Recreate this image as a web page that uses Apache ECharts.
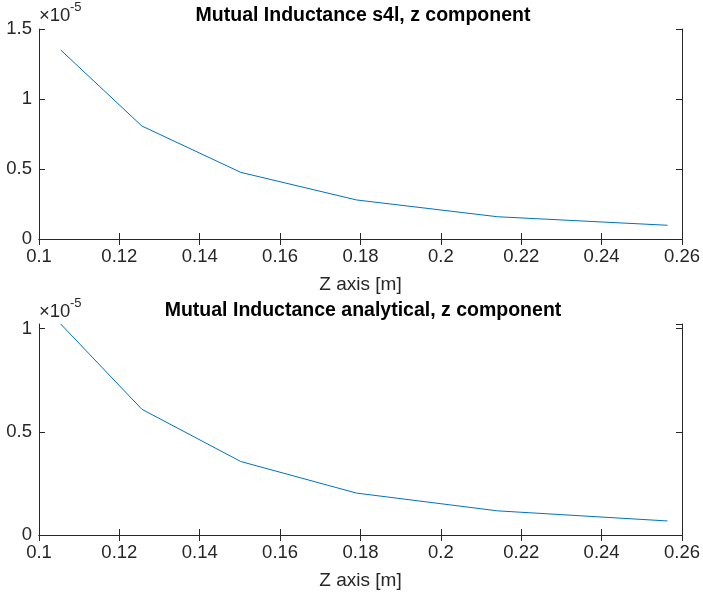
<!DOCTYPE html>
<html>
<head>
<meta charset="utf-8">
<script src="https://cdn.jsdelivr.net/npm/echarts@6/dist/echarts.min.js"></script>
<style>
  html, body { margin: 0; padding: 0; background: #fff; }
  #main { width: 703px; height: 594px; }
</style>
</head>
<body>
<div id="main"></div>
<script>
// z positions [m]
var zPos = [0.1054, 0.1256, 0.1502, 0.1790, 0.2141, 0.2564];
// mutual inductance, in units of 1e-5
var mS4l = [1.35, 0.807, 0.476, 0.279, 0.159, 0.098];
var mAnalytical = [1.022, 0.609, 0.356, 0.203, 0.117, 0.068];

var xTicks = { min: 0.1, max: 0.26, step: 0.02 };
var yTop = { min: 0, max: 1.5, step: 0.5 };
var yBottom = { min: 0, max: 1.022, step: 0.5 };

var axisCol = '#262626';
var font = 'Liberation Sans, Arial, sans-serif';
var fs = 18.5;

function pairs(xs, ys) {
    var out = [];
    for (var i = 0; i < xs.length; i++) out.push([xs[i], ys[i]]);
    return out;
}

function xAx(gi, top) {
    return {
        type: 'value',
        gridIndex: gi,
        position: top ? 'top' : 'bottom',
        min: xTicks.min, max: xTicks.max, interval: xTicks.step,
        name: top ? '' : 'Z axis [m]',
        nameLocation: 'middle',
        nameGap: 36,
        nameTextStyle: { color: axisCol, fontSize: fs + 0.5, fontFamily: font },
        axisLine: { show: true, lineStyle: { color: axisCol, width: 1 } },
        axisTick: { show: true, inside: true, length: 6, lineStyle: { color: axisCol } },
        axisLabel: { show: !top, color: axisCol, fontSize: fs, fontFamily: font, margin: 8 },
        splitLine: { show: false }
    };
}

function yAx(gi, right, rng) {
    return {
        type: 'value',
        gridIndex: gi,
        position: right ? 'right' : 'left',
        min: rng.min, max: rng.max, interval: rng.step,
        axisLine: { show: true, lineStyle: { color: axisCol, width: 1 } },
        axisTick: { show: true, inside: true, length: 6, lineStyle: { color: axisCol } },
        axisLabel: {
            show: !right, color: axisCol, fontSize: fs, fontFamily: font, margin: 7,
            showMaxLabel: rng.max % rng.step === 0
        },
        splitLine: { show: false }
    };
}

// the x10^-5 multiplier drawn above each y axis
function expLabel(top) {
    return [
        { type: 'text', left: 39, top: top + 5, style: { text: '\u00d710', fontSize: fs, fontFamily: font, fill: axisCol } },
        { type: 'text', left: 70, top: top, style: { text: '-5', fontSize: 13, fontFamily: font, fill: axisCol } }
    ];
}

var myChart = echarts.init(document.getElementById('main'));
var option = {
    backgroundColor: '#fff',
    animation: false,
    title: [
        {
            text: 'Mutual Inductance s4l, z component',
            left: 358, top: 1, textAlign: 'center',
            textStyle: { color: '#000', fontSize: 19.5, fontWeight: 'bold', fontFamily: font }
        },
        {
            text: 'Mutual Inductance analytical, z component',
            left: 358, top: 296, textAlign: 'center',
            textStyle: { color: '#000', fontSize: 19.5, fontWeight: 'bold', fontFamily: font }
        }
    ],
    grid: [
        { left: 39, right: 17, top: 29, height: 210 },
        { left: 39, right: 17, top: 324, height: 211 }
    ],
    xAxis: [xAx(0, false), xAx(0, true), xAx(1, false), xAx(1, true)],
    yAxis: [yAx(0, false, yTop), yAx(0, true, yTop), yAx(1, false, yBottom), yAx(1, true, yBottom)],
    graphic: expLabel(1).concat(expLabel(297)),
    series: [
        {
            type: 'line', xAxisIndex: 0, yAxisIndex: 0,
            data: pairs(zPos, mS4l),
            showSymbol: false, symbol: 'none',
            lineStyle: { color: '#0072BD', width: 1 }
        },
        {
            type: 'line', xAxisIndex: 2, yAxisIndex: 2,
            data: pairs(zPos, mAnalytical),
            showSymbol: false, symbol: 'none',
            lineStyle: { color: '#0072BD', width: 1 }
        }
    ]
};
myChart.setOption(option);
</script>
</body>
</html>
